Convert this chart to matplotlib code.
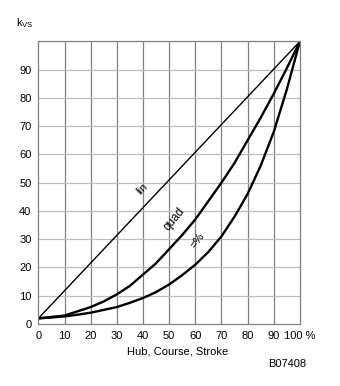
import matplotlib
matplotlib.use('Agg')
from matplotlib import pyplot as plt
import numpy as np

# stroke in %
stroke = [0, 5, 10, 15, 20, 25, 30, 35, 40, 45, 50, 55, 60, 65, 70, 75, 80, 85, 90, 95, 100]
kvs_lin = [2, 100]
stroke_lin = [0, 100]
kvs_quad = [2, 2.5, 3, 4.5, 6, 8, 10.5, 13.5, 17.5, 21.5, 26.5, 31.5, 37, 43.5, 50, 57, 65, 73, 81.5, 90.5, 100]
kvs_eqp = [2, 2.3, 2.7, 3.3, 4, 5, 6, 7.5, 9.2, 11.3, 14, 17.3, 21, 25.5, 31, 38, 46, 56, 68, 83, 100]

xticks = [0, 10, 20, 30, 40, 50, 60, 70, 80, 90, 100]
xlabels = ['0', '10', '20', '30', '40', '50', '60', '70', '80', '90', '100 %']
yticks = [0, 10, 20, 30, 40, 50, 60, 70, 80, 90]

plt.rcParams['font.family'] = ['Liberation Sans', 'DejaVu Sans']

fig = plt.figure(figsize=(3.4, 3.86), dpi=100)
ax = fig.add_axes([0.113, 0.1606, 0.769, 0.732])

ax.plot(stroke_lin, kvs_lin, color='black', linewidth=1.0)
ax.plot(stroke, kvs_quad, color='black', linewidth=1.7)
ax.plot(stroke, kvs_eqp, color='black', linewidth=1.7)

ax.set_xlim(0, 100)
ax.set_ylim(0, 100)
ax.set_xticks(xticks)
ax.set_xticklabels(xlabels)
ax.set_yticks(yticks)
ax.tick_params(length=0, labelsize=8, pad=5)

# vertical grid darker than horizontal
for x in xticks[1:-1]:
    ax.axvline(x, color='#808080', linewidth=0.9, zorder=0)
for y in yticks[1:] + [100]:
    ax.axhline(y, color='#bdbdbd', linewidth=0.9, zorder=0)
for s in ax.spines.values():
    s.set_color('#808080')
    s.set_linewidth(0.9)

ax.text(39.8, 47.8, 'lin', rotation=45, fontsize=8, ha='center', va='center')
ax.text(52.0, 37.0, 'quad', rotation=50, fontsize=8.5, ha='center', va='center')
ax.text(61.0, 29.5, '=%', rotation=55, fontsize=8, ha='center', va='center')

fig.text(25 / 340, 1 - 23 / 386, r'k$_{\mathregular{VS}}$', fontsize=8, ha='center', va='center')
fig.text(178 / 340, 1 - 352 / 386, 'Hub, Course, Stroke', fontsize=8, ha='center', va='center')
fig.text(287 / 340, 1 - 364 / 386, 'B07408', fontsize=8, ha='center', va='center')

plt.savefig('out.png', dpi=100)
